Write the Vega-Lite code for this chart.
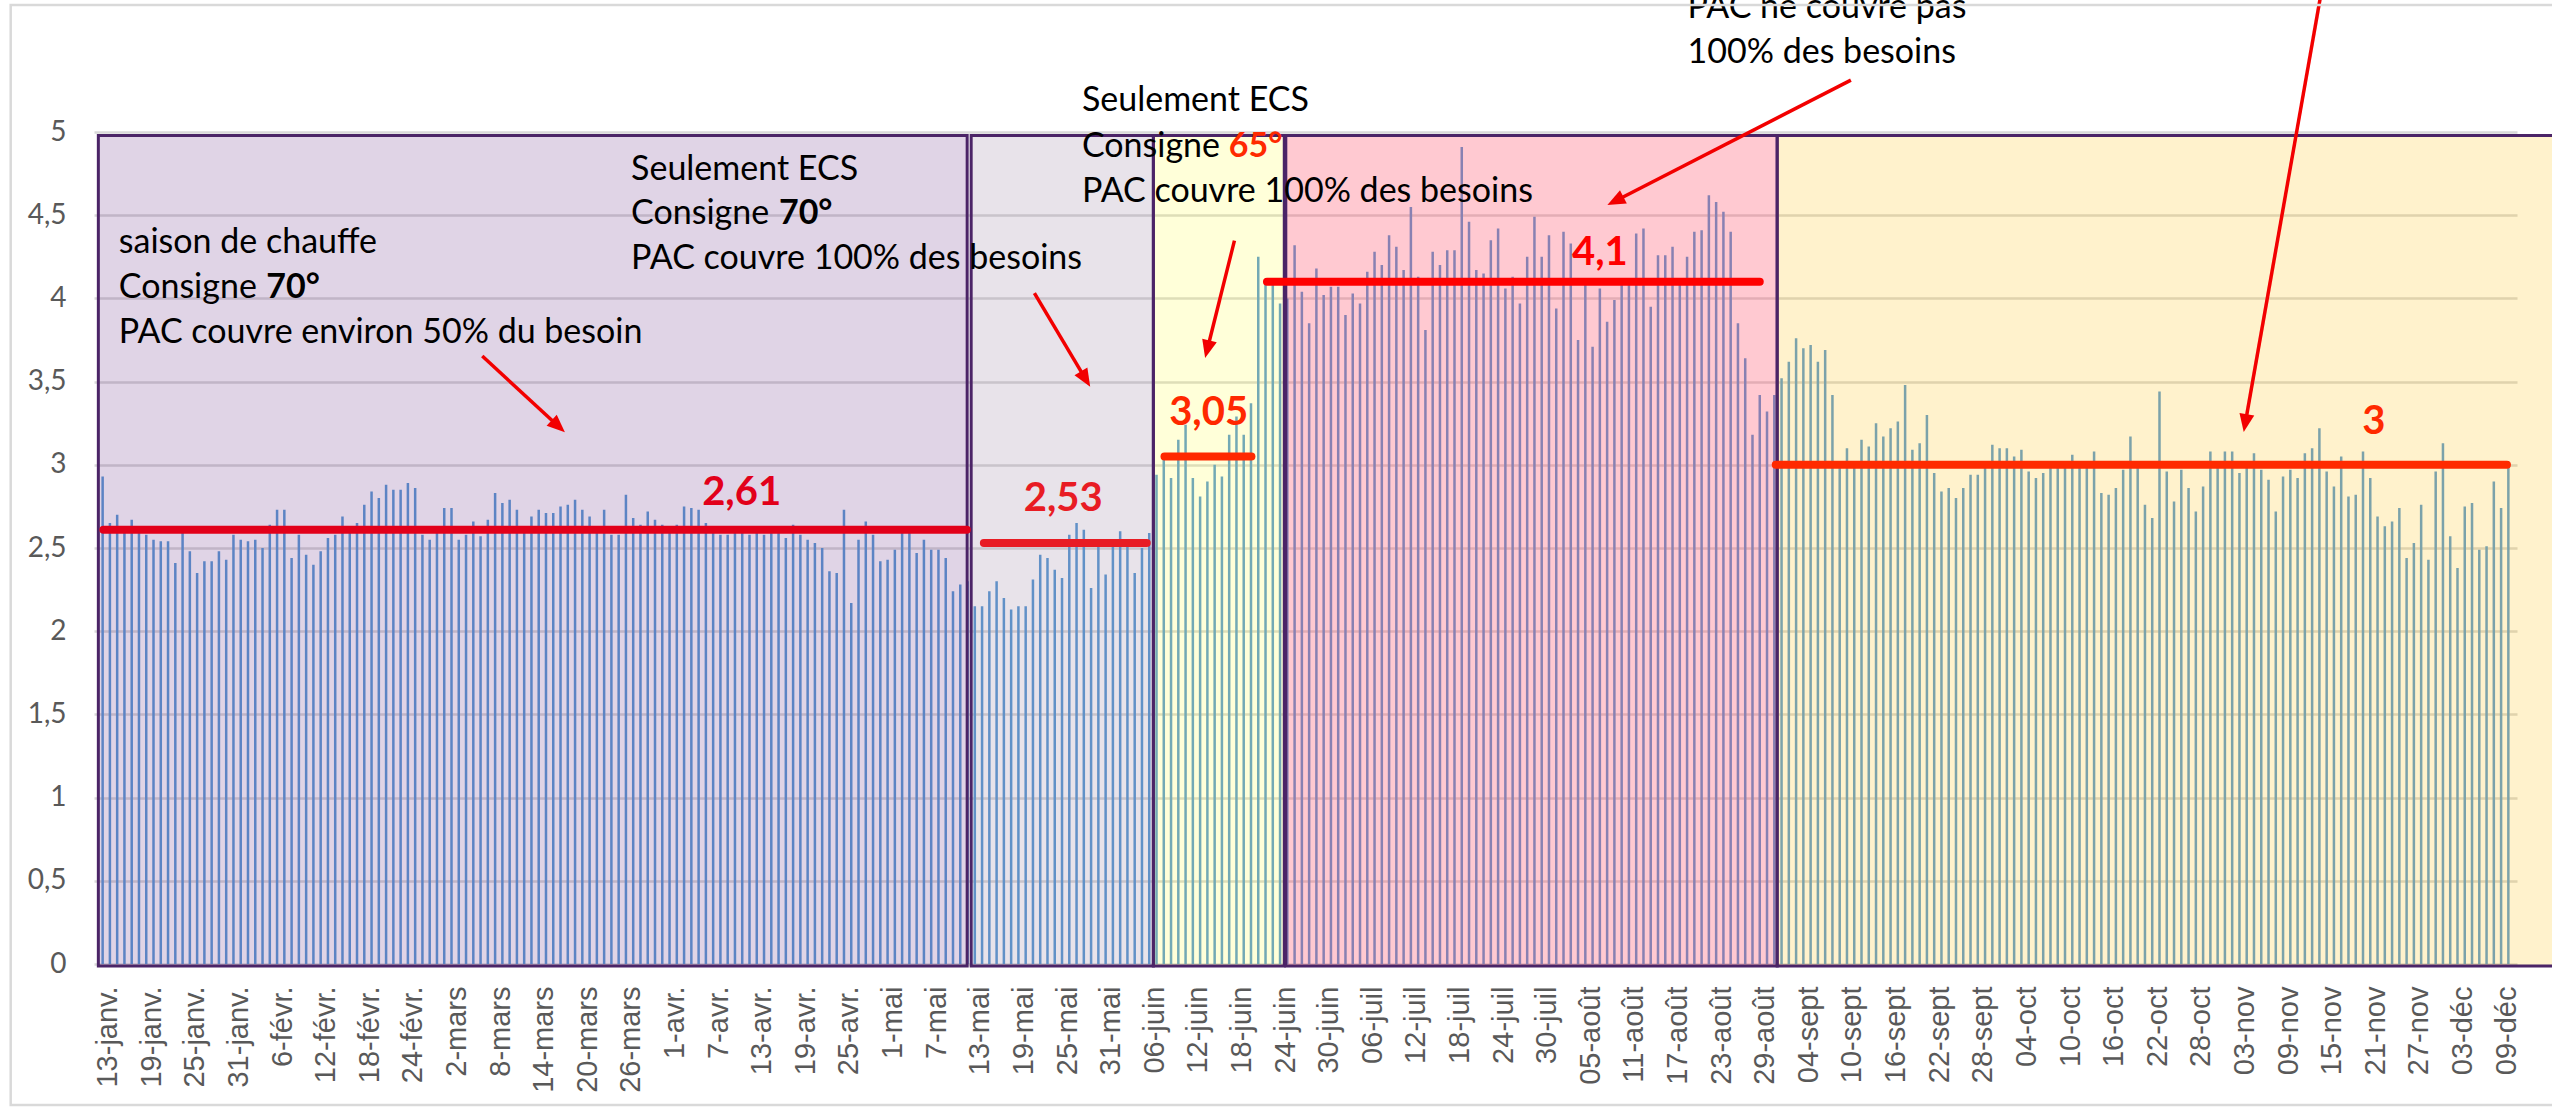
{
"$schema": "https://vega.github.io/schema/vega-lite/v6.json",
"autosize": {"type": "none"},
"padding": {"left": 94, "top": 132, "right": 35, "bottom": 143},
"width": 2423,
"height": 832,
"background": "white",
"config": {"view": {"stroke": null}},
"resolve": {"axis": {"x": "independent", "y": "independent"}},
"datasets": {
"cop": [
{"i":0,"cop":2.93},{"i":1,"cop":2.65},{"i":2,"cop":2.70},{"i":3,"cop":2.60},{"i":4,"cop":2.67},{"i":5,"cop":2.59},{"i":6,"cop":2.58},{"i":7,"cop":2.55},{"i":8,"cop":2.54},{"i":9,"cop":2.54},
{"i":10,"cop":2.41},{"i":11,"cop":2.60},{"i":12,"cop":2.48},{"i":13,"cop":2.35},{"i":14,"cop":2.42},{"i":15,"cop":2.42},{"i":16,"cop":2.48},{"i":17,"cop":2.43},{"i":18,"cop":2.58},{"i":19,"cop":2.55},
{"i":20,"cop":2.54},{"i":21,"cop":2.55},{"i":22,"cop":2.50},{"i":23,"cop":2.64},{"i":24,"cop":2.73},{"i":25,"cop":2.73},{"i":26,"cop":2.44},{"i":27,"cop":2.58},{"i":28,"cop":2.46},{"i":29,"cop":2.40},
{"i":30,"cop":2.48},{"i":31,"cop":2.56},{"i":32,"cop":2.58},{"i":33,"cop":2.69},{"i":34,"cop":2.63},{"i":35,"cop":2.65},{"i":36,"cop":2.76},{"i":37,"cop":2.84},{"i":38,"cop":2.80},{"i":39,"cop":2.88},
{"i":40,"cop":2.85},{"i":41,"cop":2.85},{"i":42,"cop":2.89},{"i":43,"cop":2.86},{"i":44,"cop":2.58},{"i":45,"cop":2.55},{"i":46,"cop":2.63},{"i":47,"cop":2.74},{"i":48,"cop":2.74},{"i":49,"cop":2.55},
{"i":50,"cop":2.58},{"i":51,"cop":2.66},{"i":52,"cop":2.57},{"i":53,"cop":2.67},{"i":54,"cop":2.83},{"i":55,"cop":2.77},{"i":56,"cop":2.79},{"i":57,"cop":2.73},{"i":58,"cop":2.60},{"i":59,"cop":2.69},
{"i":60,"cop":2.73},{"i":61,"cop":2.71},{"i":62,"cop":2.71},{"i":63,"cop":2.75},{"i":64,"cop":2.76},{"i":65,"cop":2.79},{"i":66,"cop":2.73},{"i":67,"cop":2.69},{"i":68,"cop":2.63},{"i":69,"cop":2.73},
{"i":70,"cop":2.58},{"i":71,"cop":2.58},{"i":72,"cop":2.82},{"i":73,"cop":2.68},{"i":74,"cop":2.64},{"i":75,"cop":2.72},{"i":76,"cop":2.67},{"i":77,"cop":2.64},{"i":78,"cop":2.63},{"i":79,"cop":2.64},
{"i":80,"cop":2.75},{"i":81,"cop":2.74},{"i":82,"cop":2.73},{"i":83,"cop":2.65},{"i":84,"cop":2.59},{"i":85,"cop":2.58},{"i":86,"cop":2.58},{"i":87,"cop":2.59},{"i":88,"cop":2.63},{"i":89,"cop":2.58},
{"i":90,"cop":2.59},{"i":91,"cop":2.58},{"i":92,"cop":2.63},{"i":93,"cop":2.59},{"i":94,"cop":2.56},{"i":95,"cop":2.64},{"i":96,"cop":2.58},{"i":97,"cop":2.55},{"i":98,"cop":2.53},{"i":99,"cop":2.50},
{"i":100,"cop":2.36},{"i":101,"cop":2.35},{"i":102,"cop":2.73},{"i":103,"cop":2.17},{"i":104,"cop":2.55},{"i":105,"cop":2.66},{"i":106,"cop":2.58},{"i":107,"cop":2.42},{"i":108,"cop":2.43},{"i":109,"cop":2.49},
{"i":110,"cop":2.63},{"i":111,"cop":2.60},{"i":112,"cop":2.47},{"i":113,"cop":2.55},{"i":114,"cop":2.49},{"i":115,"cop":2.49},{"i":116,"cop":2.44},{"i":117,"cop":2.24},{"i":118,"cop":2.28},{"i":119,"cop":2.30},
{"i":120,"cop":2.15},{"i":121,"cop":2.15},{"i":122,"cop":2.24},{"i":123,"cop":2.30},{"i":124,"cop":2.20},{"i":125,"cop":2.13},{"i":126,"cop":2.15},{"i":127,"cop":2.15},{"i":128,"cop":2.31},{"i":129,"cop":2.46},
{"i":130,"cop":2.44},{"i":131,"cop":2.37},{"i":132,"cop":2.32},{"i":133,"cop":2.58},{"i":134,"cop":2.65},{"i":135,"cop":2.61},{"i":136,"cop":2.26},{"i":137,"cop":2.52},{"i":138,"cop":2.34},{"i":139,"cop":2.53},
{"i":140,"cop":2.60},{"i":141,"cop":2.52},{"i":142,"cop":2.35},{"i":143,"cop":2.50},{"i":144,"cop":2.59},{"i":145,"cop":2.94},{"i":146,"cop":3.04},{"i":147,"cop":2.92},{"i":148,"cop":3.15},{"i":149,"cop":3.24},
{"i":150,"cop":2.92},{"i":151,"cop":2.81},{"i":152,"cop":2.90},{"i":153,"cop":3.00},{"i":154,"cop":2.93},{"i":155,"cop":3.18},{"i":156,"cop":3.29},{"i":157,"cop":3.18},{"i":158,"cop":3.37},{"i":159,"cop":4.25},
{"i":160,"cop":4.10},{"i":161,"cop":4.09},{"i":162,"cop":3.97},{"i":163,"cop":4.00},{"i":164,"cop":4.32},{"i":165,"cop":4.04},{"i":166,"cop":3.85},{"i":167,"cop":4.18},{"i":168,"cop":4.02},{"i":169,"cop":4.07},
{"i":170,"cop":4.07},{"i":171,"cop":3.90},{"i":172,"cop":4.03},{"i":173,"cop":3.97},{"i":174,"cop":4.16},{"i":175,"cop":4.28},{"i":176,"cop":4.20},{"i":177,"cop":4.38},{"i":178,"cop":4.31},{"i":179,"cop":4.17},
{"i":180,"cop":4.55},{"i":181,"cop":4.13},{"i":182,"cop":3.81},{"i":183,"cop":4.28},{"i":184,"cop":4.20},{"i":185,"cop":4.29},{"i":186,"cop":4.29},{"i":187,"cop":4.91},{"i":188,"cop":4.46},{"i":189,"cop":4.17},
{"i":190,"cop":4.15},{"i":191,"cop":4.35},{"i":192,"cop":4.42},{"i":193,"cop":4.06},{"i":194,"cop":4.13},{"i":195,"cop":3.97},{"i":196,"cop":4.25},{"i":197,"cop":4.49},{"i":198,"cop":4.25},{"i":199,"cop":4.38},
{"i":200,"cop":3.94},{"i":201,"cop":4.40},{"i":202,"cop":4.33},{"i":203,"cop":3.75},{"i":204,"cop":4.10},{"i":205,"cop":3.71},{"i":206,"cop":4.06},{"i":207,"cop":3.86},{"i":208,"cop":3.99},{"i":209,"cop":4.10},
{"i":210,"cop":4.09},{"i":211,"cop":4.39},{"i":212,"cop":4.42},{"i":213,"cop":3.95},{"i":214,"cop":4.26},{"i":215,"cop":4.26},{"i":216,"cop":4.31},{"i":217,"cop":4.09},{"i":218,"cop":4.25},{"i":219,"cop":4.40},
{"i":220,"cop":4.41},{"i":221,"cop":4.62},{"i":222,"cop":4.58},{"i":223,"cop":4.52},{"i":224,"cop":4.40},{"i":225,"cop":3.85},{"i":226,"cop":3.64},{"i":227,"cop":3.18},{"i":228,"cop":3.42},{"i":229,"cop":3.32},
{"i":230,"cop":3.42},{"i":231,"cop":3.52},{"i":232,"cop":3.62},{"i":233,"cop":3.76},{"i":234,"cop":3.70},{"i":235,"cop":3.72},{"i":236,"cop":3.62},{"i":237,"cop":3.69},{"i":238,"cop":3.42},{"i":239,"cop":2.99},
{"i":240,"cop":3.10},{"i":241,"cop":2.99},{"i":242,"cop":3.15},{"i":243,"cop":3.11},{"i":244,"cop":3.25},{"i":245,"cop":3.17},{"i":246,"cop":3.22},{"i":247,"cop":3.26},{"i":248,"cop":3.48},{"i":249,"cop":3.09},
{"i":250,"cop":3.13},{"i":251,"cop":3.30},{"i":252,"cop":2.95},{"i":253,"cop":2.84},{"i":254,"cop":2.86},{"i":255,"cop":2.80},{"i":256,"cop":2.86},{"i":257,"cop":2.94},{"i":258,"cop":2.94},{"i":259,"cop":3.00},
{"i":260,"cop":3.12},{"i":261,"cop":3.10},{"i":262,"cop":3.10},{"i":263,"cop":3.05},{"i":264,"cop":3.09},{"i":265,"cop":2.96},{"i":266,"cop":2.92},{"i":267,"cop":2.95},{"i":268,"cop":3.00},{"i":269,"cop":3.01},
{"i":270,"cop":2.99},{"i":271,"cop":3.06},{"i":272,"cop":3.00},{"i":273,"cop":3.01},{"i":274,"cop":3.08},{"i":275,"cop":2.83},{"i":276,"cop":2.82},{"i":277,"cop":2.86},{"i":278,"cop":2.97},{"i":279,"cop":3.17},
{"i":280,"cop":2.99},{"i":281,"cop":2.76},{"i":282,"cop":2.68},{"i":283,"cop":3.44},{"i":284,"cop":2.96},{"i":285,"cop":2.78},{"i":286,"cop":2.97},{"i":287,"cop":2.86},{"i":288,"cop":2.72},{"i":289,"cop":2.87},
{"i":290,"cop":3.08},{"i":291,"cop":3.00},{"i":292,"cop":3.08},{"i":293,"cop":3.08},{"i":294,"cop":2.95},{"i":295,"cop":3.00},{"i":296,"cop":3.07},{"i":297,"cop":2.97},{"i":298,"cop":2.91},{"i":299,"cop":2.72},
{"i":300,"cop":2.93},{"i":301,"cop":2.97},{"i":302,"cop":2.92},{"i":303,"cop":3.07},{"i":304,"cop":3.10},{"i":305,"cop":3.22},{"i":306,"cop":2.96},{"i":307,"cop":2.87},{"i":308,"cop":3.05},{"i":309,"cop":2.81},
{"i":310,"cop":2.82},{"i":311,"cop":3.08},{"i":312,"cop":2.92},{"i":313,"cop":2.69},{"i":314,"cop":2.63},{"i":315,"cop":2.66},{"i":316,"cop":2.74},{"i":317,"cop":2.44},{"i":318,"cop":2.53},{"i":319,"cop":2.76},
{"i":320,"cop":2.43},{"i":321,"cop":2.96},{"i":322,"cop":3.13},{"i":323,"cop":2.57},{"i":324,"cop":2.38},{"i":325,"cop":2.75},{"i":326,"cop":2.77},{"i":327,"cop":2.49},{"i":328,"cop":2.51},{"i":329,"cop":2.90},
{"i":330,"cop":2.74},{"i":331,"cop":2.99}
],
"boxes": [
{"zone":"chauffe","x0":-0.59,"x1":118.95},
{"zone":"ecs70","x0":119.5,"x1":144.57},
{"zone":"ecs65","x0":144.57,"x1":162.58},
{"zone":"ete","x0":162.79,"x1":230.4},
{"zone":"automne","x0":230.4,"x1":345}
],
"means": [
{"p":"P1","m":2.61,"t0":0.1,"t1":118.9,"lab":"2,61","lt":87.92,"lv":2.758},
{"p":"P2","m":2.53,"t0":121.25,"t1":143.66,"lab":"2,53","lt":132.17,"lv":2.722},
{"p":"P3","m":3.05,"t0":146.1,"t1":158.06,"lab":"3,05","lt":152.17,"lv":3.239},
{"p":"P4","m":4.1,"t0":160.2,"t1":228.0,"lab":"4,1","lt":206.0,"lv":4.201},
{"p":"P5","m":3.0,"t0":230.2,"t1":330.8,"lab":"3","lt":312.5,"lv":3.185}
],
"notes": [
{"txt":"saison de chauffe","x":2.22,"y":4.273},
{"txt":"Consigne","x":2.22,"y":4.002},
{"txt":"PAC couvre environ 50% du besoin","x":2.22,"y":3.732},
{"txt":"Seulement ECS","x":72.71,"y":4.712},
{"txt":"Consigne","x":72.71,"y":4.447},
{"txt":"PAC couvre 100% des besoins","x":72.71,"y":4.177},
{"txt":"Seulement ECS","x":134.74,"y":5.126},
{"txt":"Consigne","x":134.74,"y":4.852},
{"txt":"PAC couvre 100% des besoins","x":134.74,"y":4.581},
{"txt":"PAC ne couvre pas","x":218.07,"y":5.683},
{"txt":"100% des besoins","x":218.07,"y":5.413}
],
"boldnotes": [
{"txt":"70°","x":22.51,"y":4.002},
{"txt":"70°","x":93.05,"y":4.447}
],
"rednotes": [
{"txt":"65°","x":154.95,"y":4.852}
],
"arrows": [
{"x":52.23,"y":3.654,"x2":63.6,"y2":3.195},
{"x":128.2,"y":4.032,"x2":135.87,"y2":3.469},
{"x":155.72,"y":4.347,"x2":151.69,"y2":3.642},
{"x":240.54,"y":5.312,"x2":207.04,"y2":4.561},
{"x":305.55,"y":5.913,"x2":294.59,"y2":3.197}
]
},
"layer": [
{
"data": {"name": "cop"},
"mark": {"type": "bar", "orient": "vertical", "width": 2.5, "color": "#5B9BD5"},
"encoding": {
"x": {"field": "i", "type": "quantitative", "scale": {"domain": [-0.5, 331.5], "nice": false, "zero": false},
"axis": {"title": null, "orient": "bottom", "values": [0,6,12,18,24,30,36,42,48,54,60,66,72,78,84,90,96,102,108,114,120,126,132,138,144,150,156,162,168,174,180,186,192,198,204,210,216,222,228,234,240,246,252,258,264,270,276,282,288,294,300,306,312,318,324,330],
"labelExpr": "['13-janv.','19-janv.','25-janv.','31-janv.','6-févr.','12-févr.','18-févr.','24-févr.','2-mars','8-mars','14-mars','20-mars','26-mars','1-avr.','7-avr.','13-avr.','19-avr.','25-avr.','1-mai','7-mai','13-mai','19-mai','25-mai','31-mai','06-juin','12-juin','18-juin','24-juin','30-juin','06-juil','12-juil','18-juil','24-juil','30-juil','05-août','11-août','17-août','23-août','29-août','04-sept','10-sept','16-sept','22-sept','28-sept','04-oct','10-oct','16-oct','22-oct','28-oct','03-nov','09-nov','15-nov','21-nov','27-nov','03-déc','09-déc'][round(datum.value/6)]",
"labelAngle": -90, "labelAlign": "right", "labelBaseline": "middle", "labelFont": "Liberation Sans", "labelFontSize": 29, "labelColor": "#595959",
"ticks": false, "domain": false, "grid": false, "labelPadding": 22, "labelOverlap": false, "labelFlush": false, "labelBound": false, "labelOffset": 5}},
"y": {"field": "cop", "type": "quantitative", "scale": {"domain": [0, 5], "nice": false, "zero": false},
"axis": {"title": null, "orient": "left", "values": [0,0.5,1,1.5,2,2.5,3,3.5,4,4.5,5], "labelExpr": "replace(toString(datum.value), '.', ',')",
"labelFont": "Lato", "labelFontSize": 28, "labelColor": "#595959", "ticks": false, "domain": false,
"grid": true, "gridColor": "#D9D9D9", "gridWidth": 2.5, "labelPadding": 28}}
}
},
{
"data": {"name": "boxes"},
"mark": {"type": "rect", "stroke": "#4B2467", "strokeWidth": 3},
"encoding": {
"x": {"field": "x0", "type": "quantitative", "scale": {"domain": [-0.5, 331.5], "nice": false, "zero": false}, "axis": null},
"x2": {"field": "x1"},
"y": {"datum": -0.012, "type": "quantitative", "scale": {"domain": [0, 5], "nice": false, "zero": false}, "axis": null},
"y2": {"datum": 4.979},
"fill": {"field": "zone", "type": "nominal", "legend": null,
"scale": {"domain": ["chauffe","ecs70","ecs65","ete","automne"], "range": ["rgba(100,40,130,0.2)","rgba(128,100,140,0.18)","rgba(255,255,0,0.15)","rgba(255,60,90,0.28)","rgba(255,192,0,0.2)"]}}
}
},
{
"data": {"name": "means"},
"mark": {"type": "rule", "strokeWidth": 8, "strokeCap": "round"},
"encoding": {
"x": {"field": "t0", "type": "quantitative", "scale": {"domain": [-0.5, 331.5], "nice": false, "zero": false}, "axis": null},
"x2": {"field": "t1"},
"y": {"field": "m", "type": "quantitative", "scale": {"domain": [0, 5], "nice": false, "zero": false}, "axis": null},
"color": {"field": "p", "type": "nominal", "legend": null,
"scale": {"domain": ["P1","P2","P3","P4","P5"], "range": ["#E2001A","#E81C24","#FF2800","#FF0000","#FF2A00"]}}
}
},
{
"data": {"name": "means"},
"mark": {"type": "text", "font": "Lato", "fontWeight": "bold", "fontSize": 40, "align": "center", "baseline": "alphabetic"},
"encoding": {
"x": {"field": "lt", "type": "quantitative", "scale": {"domain": [-0.5, 331.5], "nice": false, "zero": false}, "axis": null},
"y": {"field": "lv", "type": "quantitative", "scale": {"domain": [0, 5], "nice": false, "zero": false}, "axis": null},
"text": {"field": "lab", "type": "nominal"},
"color": {"field": "p", "type": "nominal", "legend": null,
"scale": {"domain": ["P1","P2","P3","P4","P5"], "range": ["#E2001A","#E81C24","#FF2800","#FF0000","#FF2A00"]}}
}
},
{
"data": {"name": "notes"},
"mark": {"type": "text", "font": "Lato", "fontSize": 34, "align": "left", "baseline": "alphabetic", "color": "#000000"},
"encoding": {
"x": {"field": "x", "type": "quantitative", "scale": {"domain": [-0.5, 331.5], "nice": false, "zero": false}, "axis": null},
"y": {"field": "y", "type": "quantitative", "scale": {"domain": [0, 5], "nice": false, "zero": false}, "axis": null},
"text": {"field": "txt", "type": "nominal"}
}
},
{
"data": {"name": "boldnotes"},
"mark": {"type": "text", "font": "Lato", "fontWeight": "bold", "fontSize": 34, "align": "left", "baseline": "alphabetic", "color": "#000000"},
"encoding": {
"x": {"field": "x", "type": "quantitative", "scale": {"domain": [-0.5, 331.5], "nice": false, "zero": false}, "axis": null},
"y": {"field": "y", "type": "quantitative", "scale": {"domain": [0, 5], "nice": false, "zero": false}, "axis": null},
"text": {"field": "txt", "type": "nominal"}
}
},
{
"data": {"name": "rednotes"},
"mark": {"type": "text", "font": "Lato", "fontWeight": "bold", "fontSize": 34, "align": "left", "baseline": "alphabetic", "color": "#FF2A00"},
"encoding": {
"x": {"field": "x", "type": "quantitative", "scale": {"domain": [-0.5, 331.5], "nice": false, "zero": false}, "axis": null},
"y": {"field": "y", "type": "quantitative", "scale": {"domain": [0, 5], "nice": false, "zero": false}, "axis": null},
"text": {"field": "txt", "type": "nominal"}
}
},
{
"data": {"name": "arrows"},
"transform": [
{"calculate": "atan2((datum.x2-datum.x)*7.299, (datum.y2-datum.y)*166.4)*180/PI", "as": "ang"},
{"calculate": "sqrt(pow((datum.x2-datum.x)*7.299,2)+pow((datum.y2-datum.y)*166.4,2))", "as": "len"},
{"calculate": "datum.x2-(datum.x2-datum.x)*10/datum.len", "as": "hx"},
{"calculate": "datum.y2-(datum.y2-datum.y)*10/datum.len", "as": "hy"}
],
"layer": [
{
"mark": {"type": "rule", "strokeWidth": 3.5, "color": "#F20000"},
"encoding": {
"x": {"field": "x", "type": "quantitative", "scale": {"domain": [-0.5, 331.5], "nice": false, "zero": false}, "axis": null},
"x2": {"field": "hx"},
"y": {"field": "y", "type": "quantitative", "scale": {"domain": [0, 5], "nice": false, "zero": false}, "axis": null},
"y2": {"field": "hy"}
}
},
{
"mark": {"type": "point", "shape": "M0,-1L-0.75,0.8L0.75,0.8Z", "size": 400, "filled": true, "opacity": 1, "color": "#F20000", "strokeWidth": 0},
"encoding": {
"x": {"field": "hx", "type": "quantitative", "scale": {"domain": [-0.5, 331.5], "nice": false, "zero": false}, "axis": null},
"y": {"field": "hy", "type": "quantitative", "scale": {"domain": [0, 5], "nice": false, "zero": false}, "axis": null},
"angle": {"field": "ang", "type": "quantitative", "scale": null}
}
}
]
},
{
"data": {"values": [{}]},
"mark": {"type": "rect", "fillOpacity": 0, "stroke": "#D9D9D9", "strokeWidth": 2.5},
"encoding": {
"x": {"datum": -12.65, "type": "quantitative", "scale": {"domain": [-0.5, 331.5], "nice": false, "zero": false}, "axis": null},
"x2": {"datum": 345},
"y": {"datum": -0.847, "type": "quantitative", "scale": {"domain": [0, 5], "nice": false, "zero": false}, "axis": null},
"y2": {"datum": 5.763}
}
}
]
}
